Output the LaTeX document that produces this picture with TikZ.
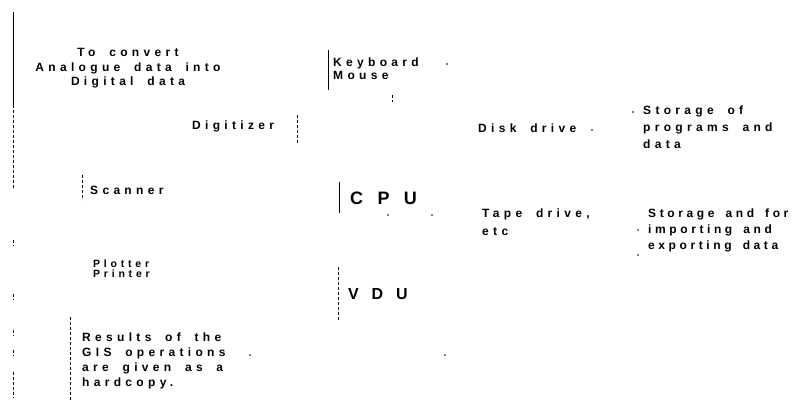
\documentclass[tikz,border=0pt]{standalone}
\usepackage{fontspec}
\newfontfamily\lblfont{Liberation Sans Bold}[LetterSpace=36, WordSpace=1.8]
\newfontfamily\narrowfont{Liberation Sans Bold}[LetterSpace=30, WordSpace=1.6]
\newfontfamily\widefont{Liberation Sans Bold}[LetterSpace=80]
\begin{document}
\begin{tikzpicture}[x=1pt,y=-1pt,
  txt/.style={inner sep=0pt, anchor=base west, align=left,
              font=\lblfont\fontsize{12}{14.5}\selectfont},
  ctxt/.style={txt, anchor=base, align=center},
  small/.style={txt, font=\lblfont\fontsize{10.5}{10}\selectfont},
  big/.style={txt, font=\widefont\fontsize{18}{20}\selectfont},
  frag/.style={line width=1pt},
  dfrag/.style={line width=1pt, dash pattern=on 3pt off 2pt},
  speck/.style={circle, fill, inner sep=0pt, minimum size=1.6pt}]
\useasboundingbox (0,0) rectangle (801,406);

% text labels (anchored at the baseline of their last line)
\node[ctxt] (conv) at (128,86) {To convert\\Analogue data into\\Digital data};
\node[txt, font=\lblfont\fontsize{12}{13}\selectfont] (kbd) at (333,80) {Keyboard\\Mouse};
\node[txt] (dig) at (192,130) {Digitizer};
\node[txt] (disk) at (478,133) {Disk drive};
\node[txt, font=\lblfont\fontsize{12}{17}\selectfont] (stor) at (643,149) {Storage of\\programs and\\data};
\node[txt] (scan) at (90,195) {Scanner};
\node[big] (cpu) at (350,205) {CPU};
\node[txt, font=\lblfont\fontsize{12}{18}\selectfont] (tape) at (482,236) {Tape drive,\\etc};
\node[txt, font=\narrowfont\fontsize{12}{16}\selectfont] (impx) at (648,250) {Storage and for\\importing and\\exporting data};
\node[small] (plot) at (93,278) {Plotter\\Printer};
\node[txt, font=\widefont\fontsize{16}{18}\selectfont] (vdu) at (348,300) {VDU};
\node[txt, font=\lblfont\fontsize{12}{14.7}\selectfont] (res) at (82,386) {Results of the\\GIS operations\\are given as a\\hardcopy.};

% line fragments
\draw[frag] (13,12) -- (13,105);
\draw[dfrag] (13,105) -- (13,188);
\draw[dfrag] (13,240) -- (13,246) (13,294) -- (13,300) (13,330) -- (13,336)
             (13,350) -- (13,356) (13,372) -- (13,398);
\draw[frag] (328,50) -- (328,90);
\draw[dfrag] (392,95) -- (392,102);
\draw[dfrag] (297,115) -- (297,143);
\draw[dfrag] (82,175) -- (82,200);
\draw[frag] (339,182) -- (339,213);
\draw[dfrag] (338,267) -- (338,320);
\draw[dfrag] (70,317) -- (70,400);

% specks
\foreach \n/\p in {a/{447,64}, b/{592,130}, c/{633,112}, d/{388,215},
                   e/{432,215}, f/{638,230}, g/{638,255}, h/{250,355}, i/{445,355}}
  \node[speck] (s\n) at (\p) {};
\end{tikzpicture}
\end{document}
